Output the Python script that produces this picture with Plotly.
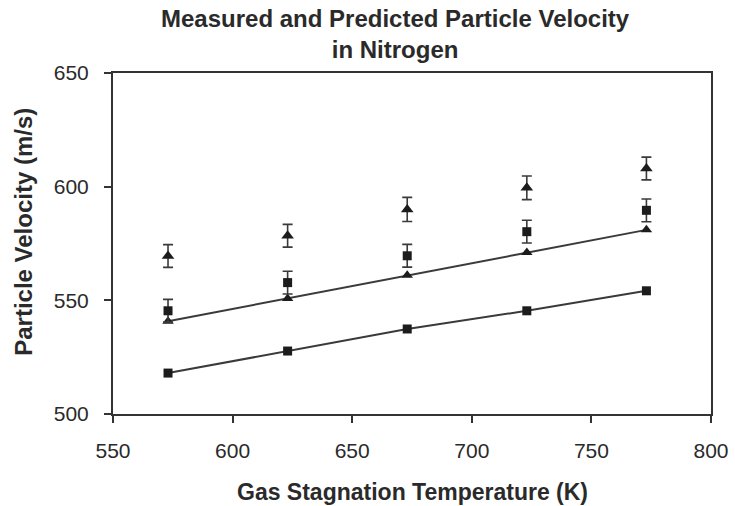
import plotly.graph_objects as go

temps = [573, 623, 673, 723, 773]
meas_tri = [569.5, 578.4, 590.0, 599.5, 608.0]
meas_tri_err = [5, 5, 5.3, 5.2, 5]
meas_sq = [545.4, 557.8, 569.6, 580.2, 589.6]
meas_sq_err = [5, 5, 5, 5, 5]
pred_tri = [540.8, 550.8, 561.0, 571.0, 581.0]
pred_sq = [518.0, 527.7, 537.4, 545.4, 554.2]

mk = "#1c1c1c"
lc = "#3a3a3a"
txt = "#2a2a2a"
font_main = "Liberation Sans, Arial, Helvetica, sans-serif"

fig = go.Figure()
fig.add_trace(go.Scatter(x=temps, y=pred_sq, mode="lines+markers",
                         line=dict(color=lc, width=2),
                         marker=dict(symbol="square", size=9, color=mk)))
fig.add_trace(go.Scatter(x=temps, y=pred_tri, mode="lines+markers",
                         line=dict(color=lc, width=2),
                         marker=dict(symbol="triangle-up", size=10, color=mk)))
fig.add_trace(go.Scatter(x=temps, y=meas_sq, mode="markers",
                         error_y=dict(type="data", array=meas_sq_err, visible=True,
                                      color=lc, thickness=1.6, width=5),
                         marker=dict(symbol="square", size=9, color=mk)))
fig.add_trace(go.Scatter(x=temps, y=meas_tri, mode="markers",
                         error_y=dict(type="data", array=meas_tri_err, visible=True,
                                      color=lc, thickness=1.6, width=5),
                         marker=dict(symbol="triangle-up", size=11, color=mk)))

axis_common = dict(showgrid=False, zeroline=False, showline=True, linecolor="#333",
                   linewidth=2, mirror=True, ticks="outside", ticklen=7,
                   tickwidth=1.5, tickcolor="#333", automargin=False,
                   tickfont=dict(family=font_main, size=21, color=txt))

fig.update_layout(
    width=735, height=506,
    margin=dict(l=113, r=24, t=73, b=92, autoexpand=False),
    paper_bgcolor="white", plot_bgcolor="white",
    showlegend=False,
    xaxis=dict(range=[550, 800], dtick=50, ticklabelstandoff=10, **axis_common),
    yaxis=dict(range=[500, 650], dtick=50, ticklabelstandoff=11, **axis_common),
    annotations=[
        dict(text="<b>Measured and Predicted Particle Velocity<br>in Nitrogen</b>",
             xref="paper", yref="paper", x=0.472, y=1.205, xanchor="center",
             yanchor="top", showarrow=False, align="center",
             font=dict(family=font_main, size=24, color=txt)),
        dict(text="<b>Gas Stagnation Temperature (K)</b>", xref="paper", yref="paper",
             x=0.5, y=-0.229, xanchor="center", yanchor="middle", showarrow=False,
             font=dict(family=font_main, size=23, color=txt)),
        dict(text="<b>Particle Velocity (m/s)</b>", xref="paper", yref="paper",
             x=-0.149, y=0.534, xanchor="center", yanchor="middle", showarrow=False,
             textangle=-90, font=dict(family=font_main, size=24, color=txt)),
    ],
)

fig.write_html("out.html")
